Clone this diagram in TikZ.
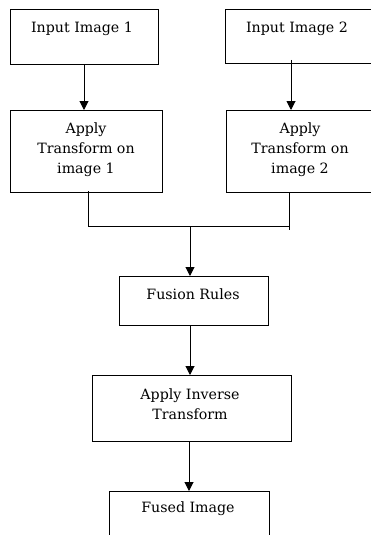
\documentclass[tikz,border=0pt]{standalone}
\usepackage{fontspec}
\setmainfont{DejaVu Serif}
\usetikzlibrary{arrows.meta}
\tikzset{
  box/.style={draw, line width=1pt, anchor=north west, outer sep=0pt, inner sep=0pt},
  txt/.style={align=center, font=\fontsize{14.2}{20}\selectfont, inner sep=0pt},
  link/.style={line width=1pt},
  arr/.style={line width=1pt, -{Triangle[width=9pt,length=9pt]}}
}
\begin{document}
\begin{tikzpicture}[x=1pt,y=-1pt]
\useasboundingbox (0,0) rectangle (371,535);
% boxes
\node[box, minimum width=148pt, minimum height=55pt] (b1) at (10,10) {};
\node[box, minimum width=155pt, minimum height=54pt] (b2) at (225,10) {};
\node[box, minimum width=152pt, minimum height=82pt] (b3) at (10,110) {};
\node[box, minimum width=155pt, minimum height=82pt] (b4) at (226,110) {};
\node[box, minimum width=149pt, minimum height=49pt] (fus) at (119,276) {};
\node[box, minimum width=199pt, minimum height=66pt] (inv) at (92,375) {};
\node[box, minimum width=160pt, minimum height=70pt] (fin) at (109,491) {};
% texts
\node[txt] (t1) at (82,29) {Input Image 1};
\node[txt] (t2) at (297,29) {Input Image 2};
\node[txt] (t3) at (86,150) {Apply\\Transform on\\image 1};
\node[txt] (t4) at (300,150) {Apply\\Transform on\\image 2};
\node[txt] (tf) at (193,294) {Fusion Rules};
\node[txt] (ti) at (190,404) {Apply Inverse\\Transform};
\node[txt] (tfi) at (188,509) {Fused Image};
% connectors
\coordinate (a2s) at (291,60);
\coordinate (m1) at (88,191);
\coordinate (m2) at (289,192);
\coordinate (j1) at (88,226);
\coordinate (j2) at (289,226);
\coordinate (j2e) at (289,230);
\coordinate (jc) at (190,226);
\draw[arr] (b1.south -| 84,0) -- (b3.north -| 84,0);
\draw[arr] (a2s) -- (b4.north -| a2s);
\draw[link] (m1) -- (j1) -- (j2) -- (m2);
\draw[link] (j2) -- (j2e);
\draw[arr] (jc) -- (fus.north -| jc);
\draw[arr] (fus.south -| jc) -- (inv.north -| jc);
\draw[arr] (inv.south -| 189,0) -- (fin.north -| 189,0);
\end{tikzpicture}
\end{document}
